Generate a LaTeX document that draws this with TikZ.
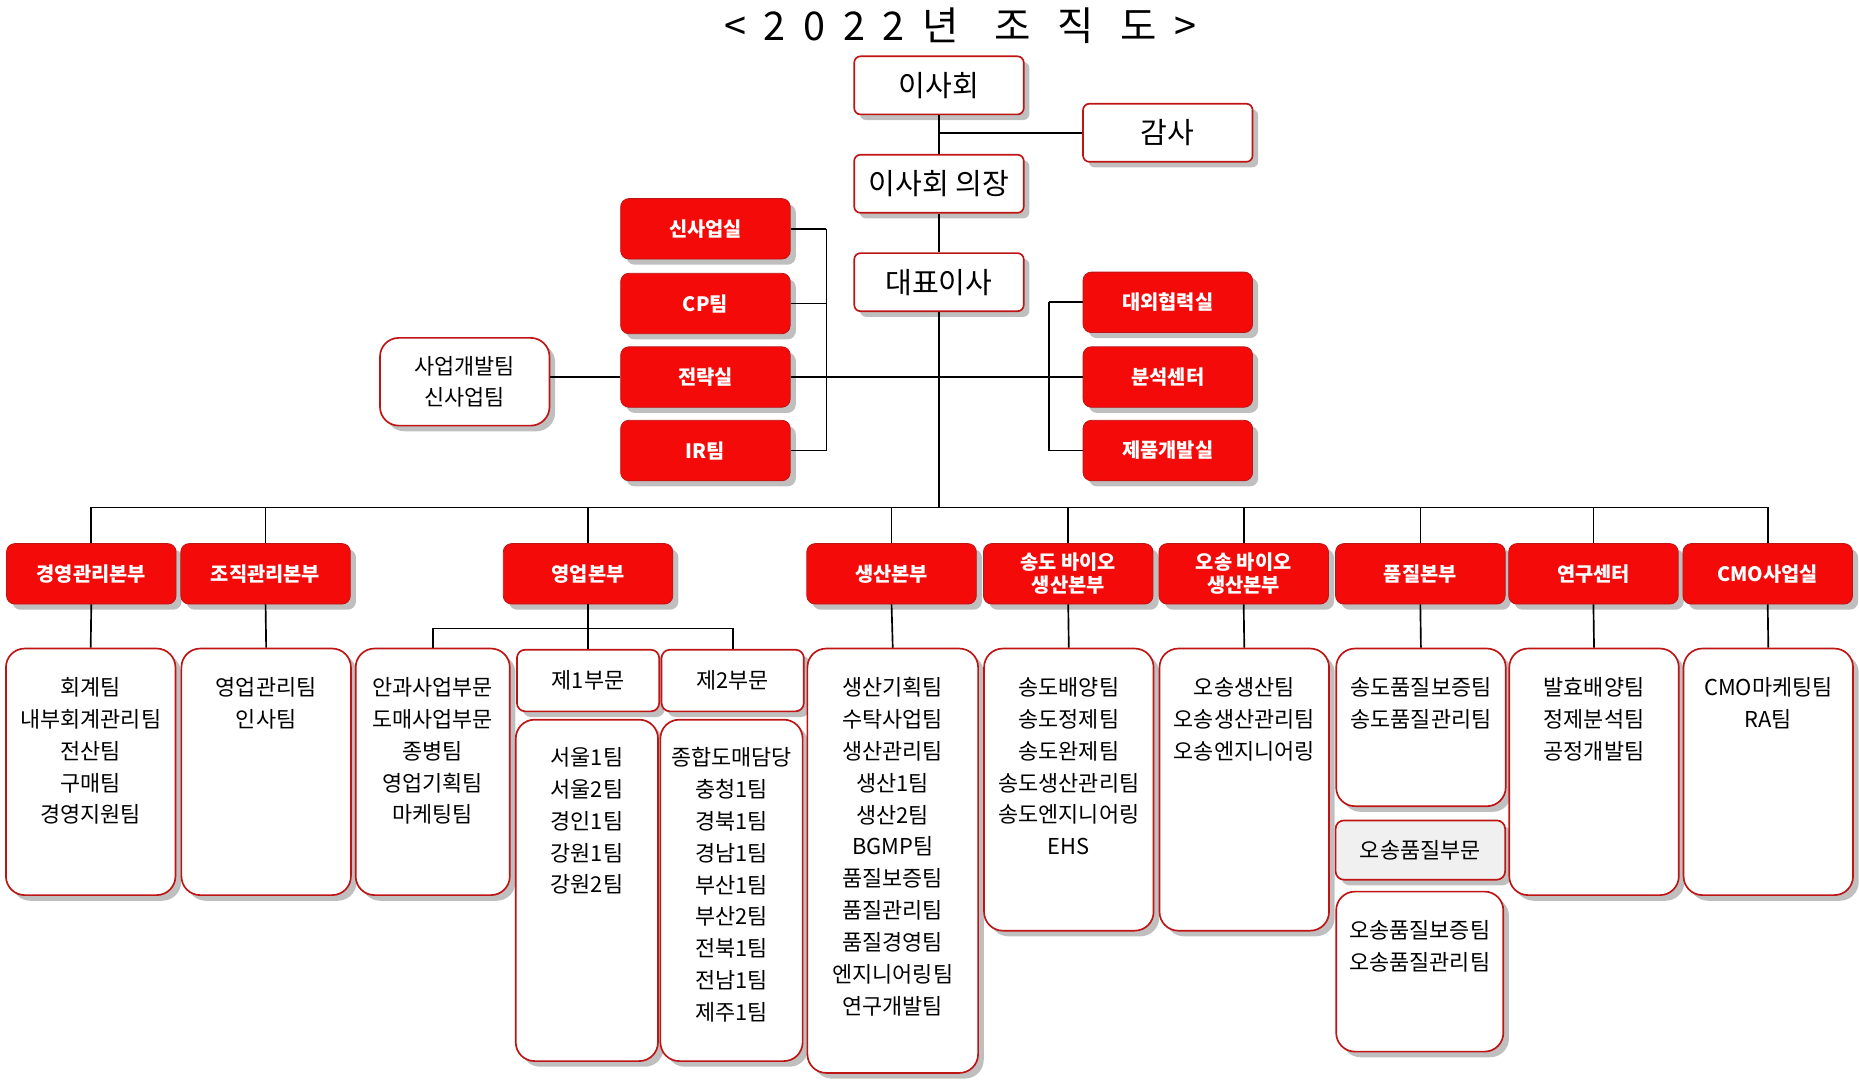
\documentclass[tikz,border=0pt]{standalone}
\usepackage{fontspec}
\setmainfont{Noto Sans CJK KR}
\usetikzlibrary{shadows}
\definecolor{boxred}{RGB}{245,10,10}
\definecolor{edgered}{RGB}{190,20,20}
\tikzset{
  topbox/.style={draw=edgered, thick, fill=white, rounded corners=3pt, minimum width=2.86cm,
                 minimum height=0.98cm, font=\fontsize{14}{16}\selectfont, drop shadow},
  redbox/.style={draw=edgered, fill=boxred, text=white, rounded corners=4pt, minimum width=2.86cm,
                 minimum height=1.02cm, align=center, drop shadow,
                 font=\bfseries\fontsize{9.5}{11}\selectfont},
  listbox/.style={draw=edgered, thick, fill=white, rounded corners=9pt, drop shadow},
  subbox/.style={draw=edgered, thick, fill=white, rounded corners=4pt, minimum height=1.04cm,
                 font=\fontsize{10.5}{12}\selectfont, drop shadow},
  listtxt/.style={anchor=north, align=center, inner sep=0pt, font=\fontsize{10.5}{15.3}\selectfont},
  line/.style={thick}
}
\begin{document}
\begin{tikzpicture}[x={(0.02cm,0)}, y={(0,-0.02cm)}]
\useasboundingbox (0,0) rectangle (1568,913);
% title
\node (title) at (810,22) {\fontsize{19}{22}\selectfont <\ \ 2\ \ 0\ \ 2\ \ 2\ \ 년\ \ \ \ 조\ \ \ 직\ \ \ 도\ \ >};
% top
\node[topbox] (board) at (792,72) {이사회};
\node[topbox] (audit) at (985,112) {감사};
\node[topbox] (chair) at (792,155) {이사회 의장};
\node[topbox] (ceo) at (792,238) {대표이사};
\node[redbox] (s1) at (595,193) {신사업실};
\node[redbox] (s2) at (595,256) {CP팀};
\node[redbox] (s3) at (595,318) {전략실};
\node[redbox] (s4) at (595,380) {IR팀};
\node[redbox] (r1) at (985,255) {대외협력실};
\node[redbox] (r2) at (985,318) {분석센터};
\node[redbox] (r3) at (985,380) {제품개발실};
\node[subbox, rounded corners=9pt, minimum width=2.86cm, minimum height=1.48cm, align=center,
      font=\fontsize{10.5}{15.3}\selectfont] (biz) at (392,322) {사업개발팀\\신사업팀};
\coordinate (lb) at (697,0);
\coordinate (rb) at (885,0);
\coordinate (bus) at (792,428);
\draw[line] (board.south) -- (chair.north);
\draw[line] (audit.west) -- (audit.west -| board.south);
\draw[line] (chair.south) -- (ceo.north);
\draw[line] (ceo.south) -- (bus);
\foreach \n in {s1,s2,s3,s4} \draw[line] (\n.east) -- (\n.east -| lb);
\draw[line] (s1.east -| lb) -- (s4.east -| lb);
\foreach \n in {r1,r2,r3} \draw[line] (\n.west) -- (\n.west -| rb);
\draw[line] (r1.west -| rb) -- (r3.west -| rb);
\draw[line] (biz.east |- s3.west) -- (s3.west);
\draw[line] (s3.east) -- (r2.west);
% divisions
\node[redbox] (d1) at (77,484) {경영관리본부};
\node[redbox] (d2) at (224,484) {조직관리본부};
\node[redbox] (d3) at (496,484) {영업본부};
\node[redbox] (d4) at (752,484) {생산본부};
\node[redbox] (d5) at (901,484) {송도 바이오\\생산본부};
\node[redbox] (d6) at (1049,484) {오송 바이오\\생산본부};
\node[redbox] (d7) at (1198,484) {품질본부};
\node[redbox] (d8) at (1344,484) {연구센터};
\node[redbox] (d9) at (1491,484) {CMO사업실};
\draw[line] (d1.north |- bus) -- (d9.north |- bus);
\foreach \n in {d1,d2,d3,d4,d5,d6,d7,d8,d9} \draw[line] (\n.north) -- (\n.north |- bus);
% lists
\node[listbox, minimum width=2.86cm, minimum height=4.16cm] (l1) at (76.5,651) {};
\node[listtxt] at (76.5,571) {회계팀\\내부회계관리팀\\전산팀\\구매팀\\경영지원팀};
\node[listbox, minimum width=2.86cm, minimum height=4.16cm] (l2) at (224.5,651) {};
\node[listtxt] at (224.5,571) {영업관리팀\\인사팀};
\node[listbox, minimum width=2.6cm, minimum height=4.16cm] (l3) at (365,651) {};
\node[listtxt] at (365,571) {안과사업부문\\도매사업부문\\종병팀\\영업기획팀\\마케팅팀};
\node[subbox, minimum width=2.4cm] (b1) at (496,574) {제1부문};
\node[subbox, minimum width=2.4cm] (b2) at (618,574) {제2부문};
\node[listbox, minimum width=2.4cm, minimum height=5.76cm] (l5) at (495,751) {};
\node[listtxt] at (495,630) {서울1팀\\서울2팀\\경인1팀\\강원1팀\\강원2팀};
\node[listbox, minimum width=2.4cm, minimum height=5.76cm] (l6) at (617,751) {};
\node[listtxt] at (617,630) {종합도매담당\\충청1팀\\경북1팀\\경남1팀\\부산1팀\\부산2팀\\전북1팀\\전남1팀\\제주1팀};
\node[listbox, minimum width=2.88cm, minimum height=7.16cm] (l7) at (753,726) {};
\node[listtxt] at (753,571) {생산기획팀\\수탁사업팀\\생산관리팀\\생산1팀\\생산2팀\\BGMP팀\\품질보증팀\\품질관리팀\\품질경영팀\\엔지니어링팀\\연구개발팀};
\node[listbox, minimum width=2.86cm, minimum height=4.76cm] (l8) at (901.5,666) {};
\node[listtxt] at (901.5,571) {송도배양팀\\송도정제팀\\송도완제팀\\송도생산관리팀\\송도엔지니어링\\EHS};
\node[listbox, minimum width=2.86cm, minimum height=4.76cm] (l9) at (1049.5,666) {};
\node[listtxt] at (1049.5,571) {오송생산팀\\오송생산관리팀\\오송엔지니어링};
\node[listbox, minimum width=2.86cm, minimum height=2.66cm] (l10) at (1198.5,613.5) {};
\node[listtxt] at (1198.5,571) {송도품질보증팀\\송도품질관리팀};
\node[subbox, fill=gray!12, minimum width=2.86cm, minimum height=1cm] (q2) at (1198,717) {오송품질부문};
\node[listbox, minimum width=2.82cm, minimum height=2.7cm] (l11) at (1197.5,819.5) {};
\node[listtxt] at (1197.5,776) {오송품질보증팀\\오송품질관리팀};
\node[listbox, minimum width=2.86cm, minimum height=4.16cm] (l12) at (1344.5,651) {};
\node[listtxt] at (1344.5,571) {발효배양팀\\정제분석팀\\공정개발팀};
\node[listbox, minimum width=2.86cm, minimum height=4.16cm] (l13) at (1491.5,651) {};
\node[listtxt] at (1491.5,571) {CMO마케팅팀\\RA팀};
% division to lists
\coordinate (ys) at (496,530);
\foreach \d/\l in {d1/l1,d2/l2,d4/l7,d5/l8,d6/l9,d7/l10,d8/l12,d9/l13}
  \draw[line] (\d.south) -- (\l.north);
\draw[line] (d3.south) -- (b1.north);
\draw[line] (l3.north) |- (ys) -| (b2.north);
\end{tikzpicture}
\end{document}
